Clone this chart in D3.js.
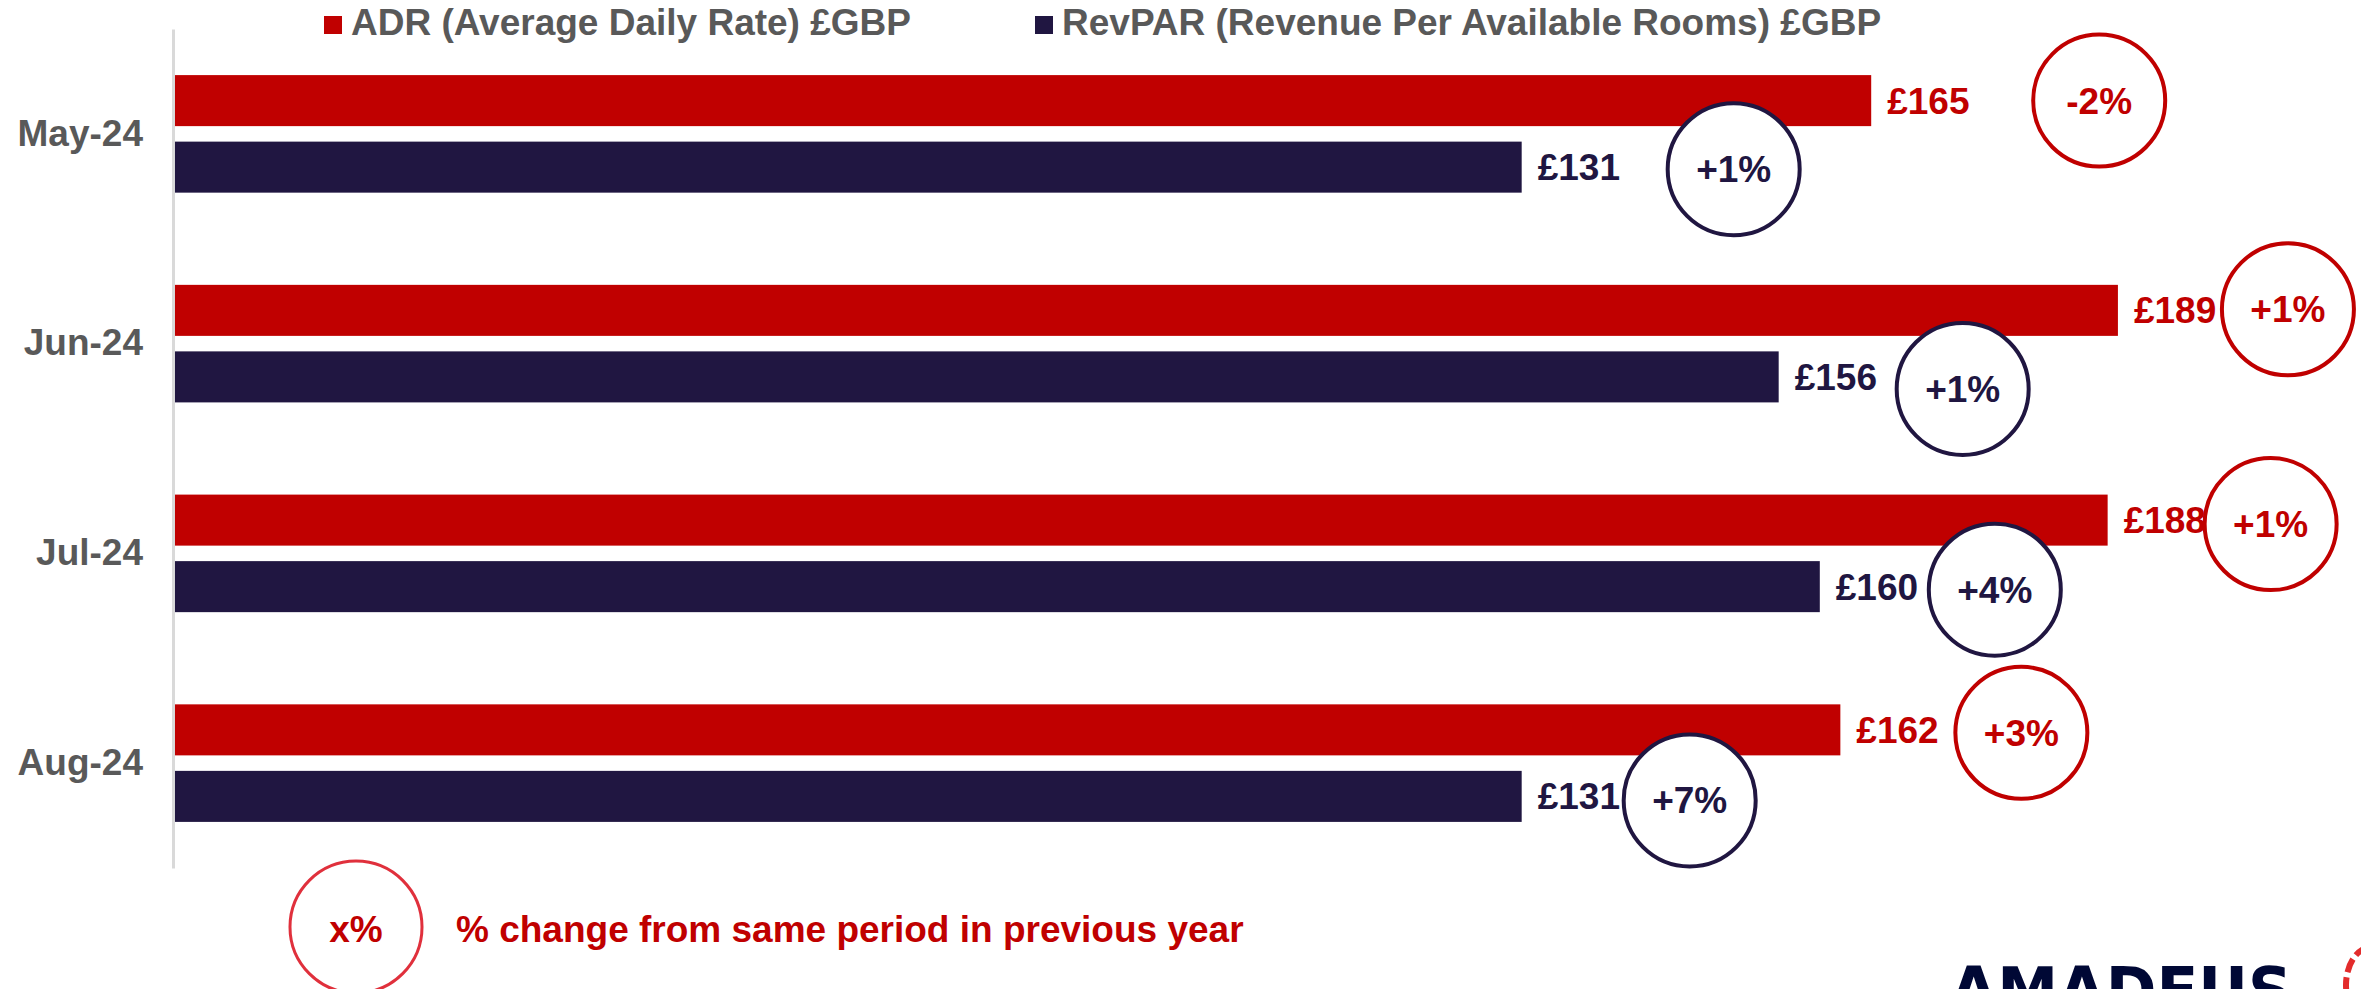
<!DOCTYPE html>
<html>
<head>
<meta charset="utf-8">
<script src="https://cdn.jsdelivr.net/npm/d3@7"></script>
<style>
    body { margin: 0; background: #ffffff; }
    svg { display: block; font-family: "Liberation Sans", Arial, sans-serif; font-weight: bold; }
</style>
</head>
<body>
<div id="chart"></div>
<script>
// Chart data
const months = ["May-24", "Jun-24", "Jul-24", "Aug-24"];
const seriesNames = ["ADR (Average Daily Rate) £GBP", "RevPAR (Revenue Per Available Rooms) £GBP"];
const adrValues = [165, 189, 188, 162];
const revparValues = [131, 156, 160, 131];
const adrChange = ["-2%", "+1%", "+1%", "+3%"];
const revparChange = ["+1%", "+1%", "+4%", "+7%"];
const legendNote = "% change from same period in previous year";

// Hand-placed badge nudges (px from the bar end / bar centre), as on the slide
const adrBadgeNudge = [[228, 0], [170, -1], [163, 4], [181, 3]];
const revparBadgeNudge = [[212, 2], [184, 12], [175, 3], [168, 4]];

const colors = { adr: "#c00000", revpar: "#201641", text: "#595959", note: "#e0303c", axis: "#d9d9d9" };
const keys = ["adr", "revpar"];

const dimensions = {
    width: 2361,
    height: 989,
    margins: { top: 29, right: 130, bottom: 121, left: 175 }
};
dimensions.bordWidth = dimensions.width - dimensions.margins.left - dimensions.margins.right;
dimensions.bordHeight = dimensions.height - dimensions.margins.top - dimensions.margins.bottom;

const svg = d3.select("#chart").append("svg")
    .attr("width", dimensions.width)
    .attr("height", dimensions.height);

svg.append("rect")
    .attr("width", dimensions.width)
    .attr("height", dimensions.height)
    .attr("fill", "#ffffff");

// Scales
const xScale = d3.scaleLinear()
    .domain([0, 200])
    .range([dimensions.margins.left, dimensions.margins.left + 2056]);

const yScale = d3.scaleBand()
    .domain(months)
    .range([dimensions.margins.top, dimensions.margins.top + dimensions.bordHeight]);

const subScale = d3.scaleBand()
    .domain(keys)
    .range([0, yScale.bandwidth()])
    .paddingInner(0.233)
    .paddingOuter(0.693);

const rows = months.map((m, i) => ({
    month: m,
    adr: adrValues[i],
    revpar: revparValues[i],
    adrChange: adrChange[i],
    revparChange: revparChange[i],
    i: i
}));

const barMid = (d, key) => yScale(d.month) + subScale(key) + subScale.bandwidth() / 2;

// Category axis (line only, labels at the left)
const yAxis = d3.axisLeft(yScale).tickSize(0).tickPadding(30);
const yAxisG = svg.append("g")
    .attr("transform", `translate(${dimensions.margins.left - 2},0)`)
    .call(yAxis);
yAxisG.select(".domain")
    .attr("stroke", colors.axis)
    .attr("stroke-width", 3);
yAxisG.selectAll(".tick text")
    .attr("fill", colors.text)
    .attr("font-size", 37)
    .attr("font-weight", "bold")
    .attr("font-family", "Liberation Sans, Arial, sans-serif");

// Bars
keys.forEach(key => {
    svg.selectAll(`.bar-${key}`)
        .data(rows)
        .enter().append("rect")
        .attr("class", `bar-${key}`)
        .attr("x", xScale(0))
        .attr("y", d => yScale(d.month) + subScale(key))
        .attr("width", d => xScale(d[key]) - xScale(0))
        .attr("height", subScale.bandwidth())
        .attr("fill", colors[key]);
});

// Change badges (white filled circles sitting over the bars)
keys.forEach(key => {
    const nudge = key === "adr" ? adrBadgeNudge : revparBadgeNudge;
    const badges = svg.selectAll(`.badge-${key}`)
        .data(rows)
        .enter().append("g")
        .attr("class", `badge-${key}`)
        .attr("transform", d => `translate(${xScale(d[key]) + nudge[d.i][0]},${barMid(d, key) + nudge[d.i][1]})`);

    badges.append("circle")
        .attr("r", 66)
        .attr("fill", "#ffffff")
        .attr("stroke", colors[key])
        .attr("stroke-width", 4);

    badges.append("text")
        .attr("text-anchor", "middle")
        .attr("dy", "0.35em")
        .attr("font-size", 37)
        .attr("fill", colors[key])
        .text(d => d[key + "Change"]);
});

// Value labels
keys.forEach(key => {
    svg.selectAll(`.label-${key}`)
        .data(rows)
        .enter().append("text")
        .attr("class", `label-${key}`)
        .attr("x", d => xScale(d[key]) + 16)
        .attr("y", d => barMid(d, key))
        .attr("dy", "0.35em")
        .attr("font-size", 37)
        .attr("fill", colors[key])
        .text(d => "£" + d[key]);
});

// Legend at the top
const legendX = [324, 1035];
const legend = svg.selectAll(".legend")
    .data(seriesNames)
    .enter().append("g")
    .attr("class", "legend")
    .attr("transform", (d, i) => `translate(${legendX[i]},16)`);

legend.append("rect")
    .attr("width", 18)
    .attr("height", 18)
    .attr("fill", (d, i) => i === 0 ? colors.adr : colors.revpar);

legend.append("text")
    .attr("x", 27)
    .attr("y", 19)
    .attr("font-size", 37)
    .attr("fill", colors.text)
    .text(d => d);

// Note at the bottom
const note = svg.append("g").attr("transform", "translate(356,927)");
note.append("circle")
    .attr("r", 66)
    .attr("fill", "#ffffff")
    .attr("stroke", colors.note)
    .attr("stroke-width", 3);
note.append("text")
    .attr("text-anchor", "middle")
    .attr("y", 2)
    .attr("dy", "0.35em")
    .attr("font-size", 37)
    .attr("fill", colors.adr)
    .text("x%");
note.append("text")
    .attr("x", 100)
    .attr("y", 2)
    .attr("dy", "0.35em")
    .attr("font-size", 37)
    .attr("fill", colors.adr)
    .text(legendNote);

// Logo (cut off by the bottom edge, as on the slide)
svg.append("text")
    .attr("x", 1950)
    .attr("y", 1013)
    .attr("font-size", 64)
    .attr("font-family", "DejaVu Sans, sans-serif")
    .attr("textLength", 342)
    .attr("lengthAdjust", "spacingAndGlyphs")
    .attr("fill", "#000835")
    .text("AMADEUS");
svg.append("ellipse")
    .attr("cx", 2372)
    .attr("cy", 985)
    .attr("rx", 26)
    .attr("ry", 38)
    .attr("fill", "none")
    .attr("stroke", "#e32b2b")
    .attr("stroke-width", 6)
    .attr("stroke-dasharray", "14 5");
</script>
</body>
</html>
